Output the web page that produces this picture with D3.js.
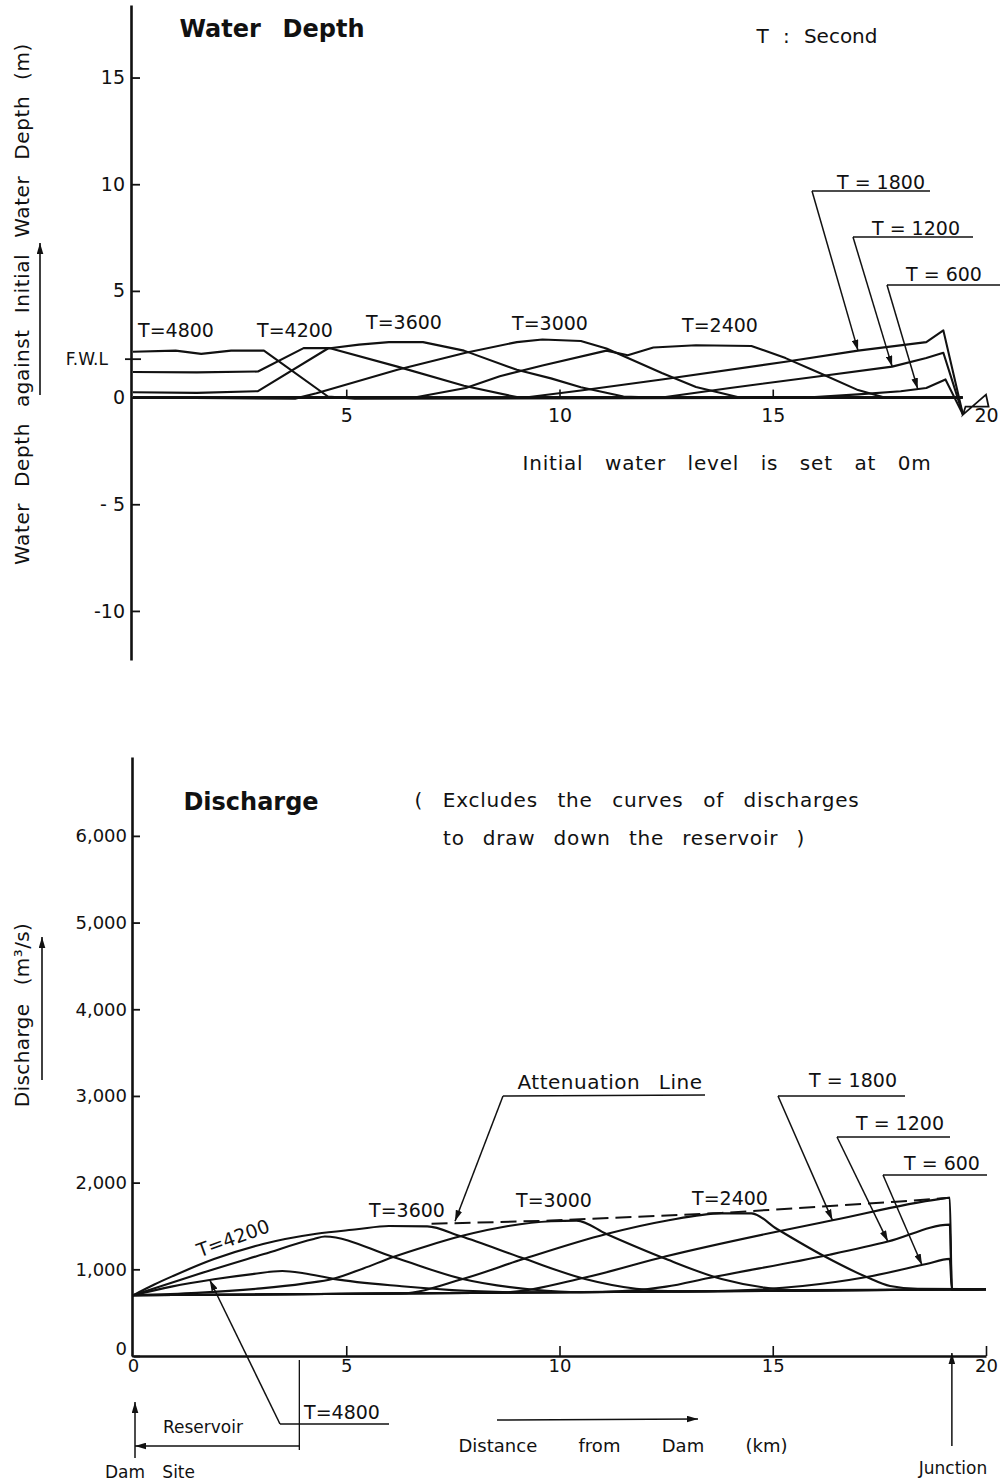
<!DOCTYPE html>
<html>
<head>
<meta charset="utf-8">
<script src="https://cdn.jsdelivr.net/npm/d3@7"></script>
<style>
  body { margin: 0; background: #fff; }
  svg { display: block; font-family: "DejaVu Sans", sans-serif; }
</style>
</head>
<body>
<svg id="chart" width="1004" height="1481"></svg>
<script>
// ---------- Water depth profiles: [distance from dam (km), depth against initial depth (m)] ----------
const depthT4800 = [[0,2.15],[1.0,2.2],[1.6,2.05],[2.3,2.2],[3.07,2.2],[4.57,0.05],[5.2,-0.05],[19.45,0]];
const depthT4200 = [[0,1.2],[1.5,1.18],[2.93,1.22],[4.0,2.32],[4.6,2.32],[6.2,1.45],[7.76,0.55],[9.0,0.02],[19.45,0]];
const depthT3600 = [[0,0.25],[1.5,0.22],[2.93,0.3],[4.57,2.3],[5.3,2.48],[6.0,2.6],[6.8,2.6],[7.76,2.2],[9.0,1.3],[9.8,0.9],[10.5,0.48],[11.5,0.05],[12.2,0],[19.45,0]];
const depthT3000 = [[0,0],[3.8,-0.05],[4.3,0.2],[6.2,1.3],[7.8,2.1],[9.0,2.6],[9.6,2.72],[10.5,2.65],[11.1,2.3],[12.4,1.15],[13.2,0.5],[14.2,0.02],[19.45,0]];
const depthT2400 = [[0,0],[6.6,0],[7.8,0.45],[8.6,1.0],[9.6,1.5],[11.1,2.2],[11.6,1.98],[12.2,2.35],[13.2,2.45],[14.5,2.42],[15.3,1.85],[16.1,1.15],[17.0,0.35],[17.6,0.02],[19.45,0]];
const depthT1800 = [[0,0],[9.2,0],[10.5,0.33],[12.4,0.85],[15.3,1.68],[17.0,2.2],[18.6,2.6],[19.0,3.15],[19.46,-0.8]];
const depthT1200 = [[0,0],[12.4,0],[14.0,0.45],[16.1,1.0],[17.8,1.45],[18.6,1.85],[19.0,2.1],[19.46,-0.8]];
const depthT600  = [[0,0],[15.8,0],[17.0,0.15],[18.0,0.3],[18.6,0.45],[19.05,0.85],[19.46,-0.8]];
// junction symbol at the downstream end of the depth profile
const junctionMark = [[19.46,-0.8],[20.0,0.14],[20.06,-0.42],[19.52,-0.42]];
const fwlLevel = 1.8;

// ---------- Discharge profiles: [distance from dam (km), discharge (m3/s)] ----------
const flowT4800 = [[0,700],[0.9,800],[1.9,885],[2.8,945],[3.5,980],[4.0,955],[4.7,890],[6.3,805],[7.8,752],[9.5,733],[20,770]];
const flowT4200 = [[0,700],[1.5,940],[3.07,1176],[4.24,1350],[4.5,1378],[6.1,1142],[7.73,888],[9.4,765],[10.5,737],[20,770]];
const flowT3600 = [[0,700],[0.5,825],[0.94,923],[1.9,1118],[3.05,1292],[4.3,1410],[5.25,1462],[6.0,1500],[6.9,1495],[7.67,1384],[9.2,1118],[10.6,888],[11.8,775],[12.8,745],[20,770]];
const flowT3000 = [[0,700],[1.5,728],[3.0,780],[4.0,835],[4.7,890],[5.4,1010],[6.1,1142],[6.9,1270],[7.7,1384],[8.8,1500],[9.8,1555],[10.4,1562],[11.1,1407],[12.5,1118],[13.8,888],[14.8,790],[15.6,760],[20,770]];
const flowT2400 = [[0,700],[6.3,722],[7.73,888],[9.15,1118],[11.1,1407],[12.5,1560],[13.8,1645],[14.5,1645],[15.1,1465],[16.2,1153],[17.2,911],[17.75,807],[18.4,775],[20,770]];
const flowT1800 = [[0,700],[8.6,730],[10.6,905],[12.5,1150],[15.2,1445],[16.4,1565],[18.9,1810],[19.15,1825],[19.2,767],[20,770]];
const flowT1200 = [[0,700],[11.0,738],[12.5,800],[13.5,900],[16.3,1165],[17.7,1320],[19.15,1515],[19.2,767],[20,770]];
const flowT600  = [[0,700],[13.5,747],[15.7,807],[17.2,911],[18.6,1061],[19.15,1120],[19.2,767],[20,770]];
const attenuationLine = [[7.0,1525],[9.8,1562],[13.8,1650],[17.9,1780],[19.15,1825]];

// ---------- ticks ----------
const depthTicks = [15, 10, 5, 0, -5, -10];
const depthTickLabels = ["15", "10", "5", "0", "- 5", "-10"];
const distanceTicksTop = [5, 10, 15, 20];
const distanceTicksBottom = [0, 5, 10, 15, 20];
const dischargeTicks = [0, 1000, 2000, 3000, 4000, 5000, 6000];
const reservoirEnd = 3.9;   // km
const junctionKm = 19.2;    // km

// ---------- setup ----------
const svg = d3.select("#chart");
const INK = "#111";

const defs = svg.append("defs");
defs.append("marker").attr("id", "ah")
  .attr("viewBox", "0 0 10 6").attr("refX", 10).attr("refY", 3)
  .attr("markerWidth", 11).attr("markerHeight", 7)
  .attr("markerUnits", "userSpaceOnUse").attr("orient", "auto")
  .append("path").attr("d", "M0,0L10,3L0,6Z").attr("fill", INK);

const xD = d3.scaleLinear().domain([0, 20]).range([133, 986]);
const yD = d3.scaleLinear().domain([-12.3, 18.4]).range([660, 5]);
const xQ = d3.scaleLinear().domain([0, 20]).range([133, 986]);
const yQ = d3.scaleLinear().domain([0, 6910]).range([1356, 757]);

function valueAt(pts, km) {
  for (let i = 1; i < pts.length; i++) {
    const [x0, y0] = pts[i - 1], [x1, y1] = pts[i];
    if (km >= x0 && km <= x1) return x1 === x0 ? y0 : y0 + (y1 - y0) * (km - x0) / (x1 - x0);
  }
  return pts[pts.length - 1][1];
}

// text centred (vertically on cap height) at cx, cy; optional word-spread to a given width
function addText(txt, cx, cy, o = {}) {
  const size = o.size || 18;
  const t = svg.append("text")
    .attr("font-size", size)
    .attr("font-weight", o.weight || "normal")
    .attr("text-anchor", o.anchor || "middle")
    .attr("fill", INK)
    .attr("x", 0).attr("y", 0.36 * size)
    .text(txt);
  if (o.ls) t.style("letter-spacing", o.ls + "px");
  if (o.width) {
    const n = (txt.match(/ /g) || []).length;
    const w = t.node().getComputedTextLength();
    if (n > 0) t.style("word-spacing", ((o.width - w) / n) + "px");
  }
  t.attr("transform", `translate(${cx},${cy}) rotate(${o.rotate || 0})`);
  return t;
}

function seg(x1, y1, x2, y2, w = 1.4, arrow = false, dash = null) {
  const l = svg.append("line").attr("x1", x1).attr("y1", y1).attr("x2", x2).attr("y2", y2)
    .attr("stroke", INK).attr("stroke-width", w);
  if (arrow) l.attr("marker-end", "url(#ah)");
  if (dash) l.attr("stroke-dasharray", dash);
  return l;
}

// =====================================================================
// Water depth panel
// =====================================================================
const gTopY = svg.append("g").attr("transform", `translate(${xD(0) - 2},0)`)
  .call(d3.axisLeft(yD).tickValues(depthTicks)
    .tickFormat((d, i) => depthTickLabels[i])
    .tickSizeInner(-9).tickSizeOuter(0).tickPadding(6));
gTopY.select(".domain").attr("stroke", INK).attr("stroke-width", 2.6);
gTopY.selectAll(".tick line").attr("stroke", INK).attr("stroke-width", 1.8);
gTopY.selectAll(".tick text").attr("font-size", 19).attr("font-family", "DejaVu Sans").attr("fill", INK);

// F.W.L mark
seg(xD(0) - 8, yD(fwlLevel), xD(0) + 8, yD(fwlLevel), 1.8);
addText("F.W.L", 108, yD(fwlLevel), { size: 17, anchor: "end" });

const gTopX = svg.append("g").attr("transform", `translate(0,${yD(0)})`)
  .call(d3.axisBottom(xD).tickValues(distanceTicksTop).tickSizeInner(-8).tickSizeOuter(0).tickPadding(11));
gTopX.select(".domain").remove();
gTopX.selectAll(".tick line").attr("stroke", INK).attr("stroke-width", 1.6);
gTopX.selectAll(".tick").filter(d => d === 20).select("line").remove();
gTopX.selectAll(".tick text").attr("font-size", 19).attr("font-family", "DejaVu Sans").attr("fill", INK);
// baseline (initial water level)
seg(xD(0), yD(0), xD(19.45), yD(0), 2.4);

const lineD = d3.line().x(d => xD(d[0])).y(d => yD(d[1]));
const depthSeries = [depthT4800, depthT4200, depthT3600, depthT3000, depthT2400, depthT1800, depthT1200, depthT600];
svg.append("g").selectAll("path").data(depthSeries).join("path")
  .attr("d", lineD).attr("fill", "none").attr("stroke", INK)
  .attr("stroke-width", 2.1).attr("stroke-linejoin", "round");
svg.append("path").attr("d", lineD(junctionMark) + "Z").attr("fill", "none")
  .attr("stroke", INK).attr("stroke-width", 1.8);

// titles and notes
addText("Water Depth", 272, 28, { size: 24, weight: "bold", width: 185 });
addText("T : Second", 817, 36, { size: 20, width: 121 });
addText("Initial water level is set at 0m", 727, 463, { size: 20, ls: 0.8, width: 409 });
addText("Water Depth against Initial Water Depth (m)", 22, 304, { size: 20, ls: 0.6, width: 522, rotate: -90 });
seg(40, 395, 40, 243, 1.6, true);

// time labels on the depth panel
addText("T=4800", 176, 330, { size: 19 });
addText("T=4200", 295, 330, { size: 19 });
addText("T=3600", 404, 322, { size: 19 });
addText("T=3000", 550, 323, { size: 19 });
addText("T=2400", 720, 325, { size: 19 });

const topLeaders = [
  { txt: "T = 1800", cx: 881, cy: 182, ux0: 812, ux1: 930, uy: 191, series: depthT1800, km: 17.0 },
  { txt: "T = 1200", cx: 916, cy: 228, ux0: 853, ux1: 973, uy: 237, series: depthT1200, km: 17.8 },
  { txt: "T = 600",  cx: 944, cy: 274, ux0: 887, ux1: 1000, uy: 285, series: depthT600, km: 18.4 }
];
topLeaders.forEach(l => {
  addText(l.txt, l.cx, l.cy, { size: 19 });
  seg(l.ux0, l.uy, l.ux1, l.uy, 1.5);
  seg(l.ux0, l.uy, xD(l.km), yD(valueAt(l.series, l.km)), 1.5, true);
});

// =====================================================================
// Discharge panel
// =====================================================================
const gBotY = svg.append("g").attr("transform", `translate(${xQ(0) - 1},0)`)
  .call(d3.axisLeft(yQ).tickValues(dischargeTicks).tickFormat(d3.format(","))
    .tickSizeInner(-8).tickSizeOuter(0).tickPadding(5));
gBotY.select(".domain").attr("stroke", INK).attr("stroke-width", 2.6);
gBotY.selectAll(".tick line").attr("stroke", INK).attr("stroke-width", 1.8);
gBotY.selectAll(".tick text").attr("font-size", 18).attr("font-family", "DejaVu Sans").attr("fill", INK);
gBotY.selectAll(".tick").filter(d => d === 0).select("text").attr("dy", "-0.1em");

const gBotX = svg.append("g").attr("transform", `translate(0,${yQ(0)})`)
  .call(d3.axisBottom(xQ).tickValues(distanceTicksBottom).tickSizeInner(-10).tickSizeOuter(0).tickPadding(3));
gBotX.select(".domain").attr("stroke", INK).attr("stroke-width", 2.4);
gBotX.selectAll(".tick line").attr("stroke", INK).attr("stroke-width", 1.6);
gBotX.selectAll(".tick").filter(d => d === 0).select("line").remove();
gBotX.selectAll(".tick text").attr("font-size", 18).attr("font-family", "DejaVu Sans").attr("fill", INK);

const lineQ = d3.line().x(d => xQ(d[0])).y(d => yQ(d[1])).curve(d3.curveMonotoneX);
const flowSeries = [flowT4800, flowT4200, flowT3600, flowT3000, flowT2400, flowT1800, flowT1200, flowT600];
svg.append("g").selectAll("path").data(flowSeries).join("path")
  .attr("d", lineQ).attr("fill", "none").attr("stroke", INK)
  .attr("stroke-width", 2.1).attr("stroke-linejoin", "round");
svg.append("path").attr("d", d3.line().x(d => xQ(d[0])).y(d => yQ(d[1]))(attenuationLine))
  .attr("fill", "none").attr("stroke", INK).attr("stroke-width", 2)
  .attr("stroke-dasharray", "16,7");

// titles and notes
addText("Discharge", 251, 801, { size: 24, weight: "bold" });
addText("( Excludes the curves of discharges", 637, 800, { size: 20, ls: 0.8, width: 445 });
addText("to draw down the reservoir )", 624, 838, { size: 20, ls: 0.8, width: 362 });
addText("Discharge  (m³/s)", 22, 1015, { size: 20, ls: 0.4, width: 196, rotate: -90 });
seg(42, 1080, 42, 937, 1.6, true);

// time labels on the discharge panel
addText("T=3600", 407, 1210, { size: 19 });
addText("T=3000", 554, 1200, { size: 19 });
addText("T=2400", 730, 1198, { size: 19 });
addText("T=4200", 233, 1238, { size: 19, rotate: -20 });

// attenuation line callout
addText("Attenuation Line", 610, 1082, { size: 20, ls: 0.5, width: 185 });
seg(503, 1096, 705, 1095, 1.5);
seg(503, 1096, xQ(7.55), yQ(valueAt(attenuationLine, 7.55)) - 2, 1.5, true);

const botLeaders = [
  { txt: "T = 1800", cx: 853, cy: 1080, ux0: 778, ux1: 905, uy: 1096, series: flowT1800, km: 16.4 },
  { txt: "T = 1200", cx: 900, cy: 1123, ux0: 837, ux1: 950, uy: 1137, series: flowT1200, km: 17.7 },
  { txt: "T = 600",  cx: 942, cy: 1163, ux0: 883, ux1: 987, uy: 1175, series: flowT600, km: 18.5 }
];
botLeaders.forEach(l => {
  addText(l.txt, l.cx, l.cy, { size: 19 });
  seg(l.ux0, l.uy, l.ux1, l.uy, 1.5);
  seg(l.ux0, l.uy, xQ(l.km), yQ(valueAt(l.series, l.km)), 1.5, true);
});

// T=4800 callout below the axis
addText("T=4800", 342, 1412, { size: 19 });
seg(280, 1424, 389, 1424, 1.5);
seg(280, 1424, xQ(1.8), yQ(valueAt(flowT4800, 1.8)), 1.5, true);

// reservoir extent, dam site and junction
seg(xQ(reservoirEnd), yQ(0) + 4, xQ(reservoirEnd), 1450, 1.3);
seg(xQ(reservoirEnd), 1446, xQ(0) + 2, 1446, 1.5, true);
addText("Reservoir", 203, 1427, { size: 17 });
seg(xQ(0) + 2, 1458, xQ(0) + 2, 1402, 1.5, true);
addText("Dam Site", 150, 1472, { size: 17, width: 90 });
seg(xQ(junctionKm), 1446, xQ(junctionKm), yQ(0) - 3, 1.5, true);
addText("Junction", 953, 1468, { size: 17 });

// distance axis caption
seg(497, 1420, 698, 1419, 1.5, true);
addText("Distance from Dam (km)", 623, 1446, { size: 18, width: 329 });
</script>
</body>
</html>
